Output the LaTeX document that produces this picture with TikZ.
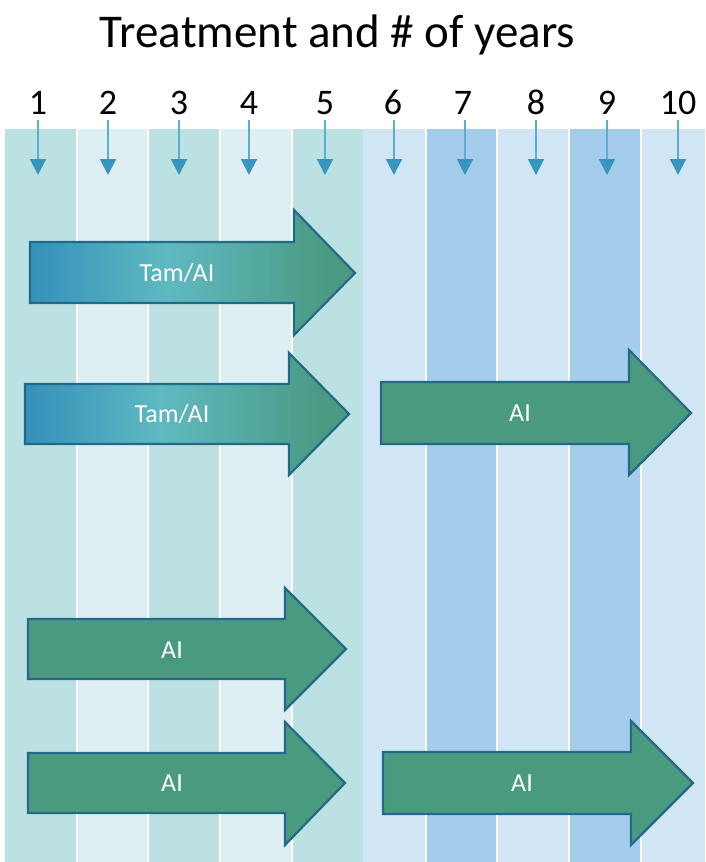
\documentclass[tikz,border=0pt]{standalone}
\usepackage{fontspec}
\setmainfont{Carlito}
\usetikzlibrary{arrows.meta}

\definecolor{colTealA}{HTML}{BCE1E3}
\definecolor{colTealB}{HTML}{DDEFF2}
\definecolor{colBlueA}{HTML}{D1E6F4}
\definecolor{colBlueB}{HTML}{A4CDEC}
\definecolor{tickLine}{HTML}{5AAFD0}
\definecolor{tickHead}{HTML}{3795BE}
\definecolor{tamL}{HTML}{3391BA}
\definecolor{tamM}{HTML}{5FB9C1}
\definecolor{tamR}{HTML}{4A9A82}
\definecolor{aiFill}{HTML}{4A9A7F}
\definecolor{arrowEdge}{HTML}{246A88}

\pgfdeclarehorizontalshading{tamai}{100bp}{color(0bp)=(tamL); color(25bp)=(tamL); color(46bp)=(tamM); color(71bp)=(tamR); color(100bp)=(tamR)}

\begin{document}
\begin{tikzpicture}[x=1pt,y=-1pt,
  title/.style={font=\fontsize{47}{47}\selectfont, anchor=base, inner sep=0pt},
  yearnum/.style={font=\fontsize{36}{36}\selectfont, anchor=base, inner sep=0pt},
  tick/.style={draw=tickLine, line width=2pt, -{Triangle[width=16pt,length=16pt,color=tickHead,fill=tickHead]}},
  bigarrow/.style={draw=arrowEdge, line width=2.2pt, line join=miter},
  arrowlabel/.style={font=\fontsize{26}{26}\selectfont, text=white, anchor=base, inner sep=0pt},
  gap/.style={draw=white, line width=1.3pt}
]
\useasboundingbox (0,0) rectangle (705,862);
\fill[white] (0,0) rectangle (705,862);

% year columns
\fill[colTealA] (5,129) rectangle (77,862);
\fill[colTealB] (77,129) rectangle (148,862);
\fill[colTealA] (148,129) rectangle (220,862);
\fill[colTealB] (220,129) rectangle (292,862);
\fill[colTealA] (292,129) rectangle (363,862);
\fill[colBlueA] (363,129) rectangle (426,862);
\fill[colBlueB] (426,129) rectangle (497,862);
\fill[colBlueA] (497,129) rectangle (569,862);
\fill[colBlueB] (569,129) rectangle (641,862);
\fill[colBlueA] (641,129) rectangle (705,862);
\foreach \gx in {77,148,220,292,426,497,569,641}
  \draw[gap] (\gx,129) -- (\gx,862);

% title
\node[title] (heading) at (337.5,47) {Treatment and \# of years};

% year numbers and their tick arrows
\foreach \n/\nx/\ax in {1/38/38, 2/108/108, 3/179/179, 4/249/249, 5/325/325,
                        6/393/394, 7/463/465, 8/536/536, 9/607/607, 10/678/678} {
  \node[yearnum] (y\n) at (\nx,114) {\n};
  \coordinate (ts\n) at (\ax,120);
  \coordinate (te\n) at (\ax,175);
  \draw[tick] (ts\n) -- (te\n);
}

% Tam/AI, years 1-5
\shadedraw[bigarrow, shading=tamai, shading angle=0]
  (30,242) -- (294,242) -- (294,210) -- (355,273) -- (294,335) -- (294,303) -- (30,303) -- cycle;
\node[arrowlabel] (lab1) at (177,281.5) {Tam/AI};

% Tam/AI years 1-5, then AI years 6-10
\shadedraw[bigarrow, shading=tamai, shading angle=0]
  (25,384) -- (289,384) -- (289,353) -- (349,414) -- (289,475) -- (289,444) -- (25,444) -- cycle;
\node[arrowlabel] (lab2) at (172,422) {Tam/AI};
\draw[bigarrow, fill=aiFill]
  (381,382) -- (629,382) -- (629,350) -- (691,413) -- (629,475) -- (629,444) -- (381,444) -- cycle;
\node[arrowlabel] (lab3) at (520,421.5) {AI};

% AI, years 1-5
\draw[bigarrow, fill=aiFill]
  (28,619) -- (285,619) -- (285,588) -- (346,649) -- (285,710) -- (285,679) -- (28,679) -- cycle;
\node[arrowlabel] (lab4) at (172,658) {AI};

% AI years 1-5, then AI years 6-10
\draw[bigarrow, fill=aiFill]
  (28,753) -- (285,753) -- (285,722) -- (345,783) -- (285,845) -- (285,813) -- (28,813) -- cycle;
\node[arrowlabel] (lab5) at (172,791.5) {AI};
\draw[bigarrow, fill=aiFill]
  (383,752) -- (631,752) -- (631,721) -- (693,783) -- (631,845) -- (631,814) -- (383,814) -- cycle;
\node[arrowlabel] (lab6) at (522,791.5) {AI};
\end{tikzpicture}
\end{document}
